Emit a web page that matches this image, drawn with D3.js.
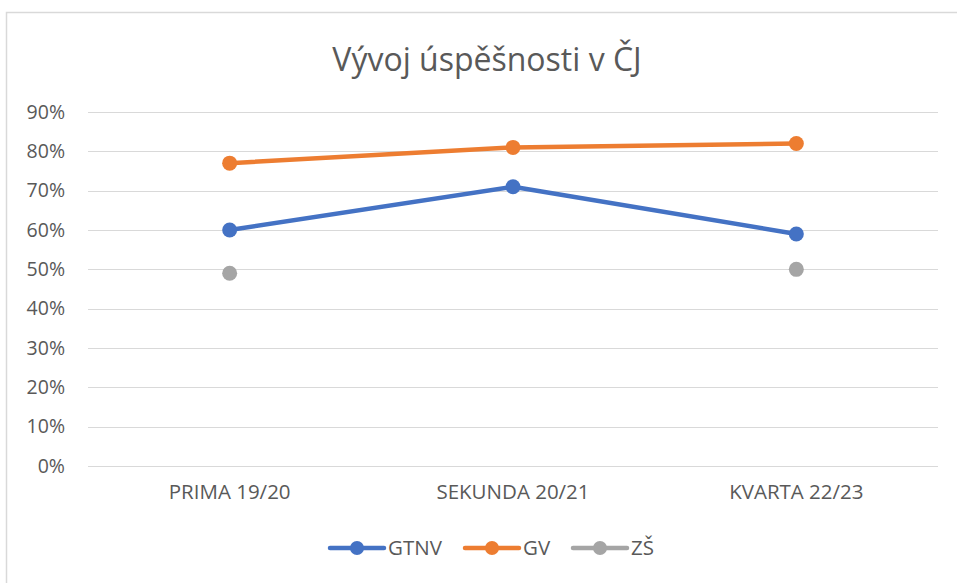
<!DOCTYPE html>
<html><head><meta charset="utf-8">
<script src="https://cdn.jsdelivr.net/npm/d3@7"></script>
<style>body{margin:0;background:#fff}svg{display:block}text{font-family:"Open Sans","Noto Sans",sans-serif;fill:#595959}</style>
</head><body>
<svg id="c" width="957" height="583"></svg>
<script>
const categories = ["PRIMA 19/20", "SEKUNDA 20/21", "KVARTA 22/23"];
const gtnv = [60, 71, 59];
const gv = [77, 81, 82];
const zs = [49, null, 50];
const yTicks = [0, 10, 20, 30, 40, 50, 60, 70, 80, 90];
const seriesNames = ["GTNV", "GV", "ZŠ"];
const colors = ["#4472C4", "#ED7D31", "#A5A5A5"];
const title = "Vývoj úspěšnosti v ČJ";

const svg = d3.select("#c");
svg.append("rect").attr("x", 6.5).attr("y", 12.5).attr("width", 960).attr("height", 600)
  .attr("fill", "none").attr("stroke", "#d9d9d9").attr("stroke-width", 1.5);

const x = d3.scaleBand().domain(categories).range([88, 938]).padding(0);
const y = d3.scaleLinear().domain([0, 90]).range([466, 112]);

svg.append("text").attr("x", 487).attr("y", 71).attr("text-anchor", "middle")
  .style("font-size", "32px").text(title);

const grid = svg.append("g");
grid.selectAll("line").data(yTicks).join("line")
  .attr("x1", 88).attr("x2", 938)
  .attr("y1", d => Math.round(y(d)) + 0.5).attr("y2", d => Math.round(y(d)) + 0.5)
  .attr("stroke", "#d9d9d9").attr("stroke-width", 1.2);

const yAxis = d3.axisLeft(y).tickValues(yTicks).tickFormat(d => d + "%").tickSize(0).tickPadding(0);
const ya = svg.append("g").attr("transform", "translate(65,0)").call(yAxis);
ya.select(".domain").remove();
ya.selectAll("text").style("font-size", "19.5px").style("font-family", null).attr("fill", null);

const xAxis = d3.axisBottom(x).tickSize(0).tickPadding(0);
const xa = svg.append("g").attr("transform", "translate(0,484)").call(xAxis);
xa.select(".domain").remove();
xa.selectAll("text").style("font-size", "20.5px").style("font-family", null).attr("fill", null);

const data = [gtnv, gv, zs];
const line = d3.line().defined(d => d.v != null).x(d => x(d.c) + x.bandwidth() / 2).y(d => y(d.v));
data.forEach((s, i) => {
  const pts = s.map((v, j) => ({ c: categories[j], v }));
  svg.append("path").datum(pts).attr("d", line).attr("fill", "none")
    .attr("stroke", colors[i]).attr("stroke-width", 4.5).attr("stroke-linejoin", "round").attr("stroke-linecap", "round");
  svg.append("g").selectAll("circle").data(pts.filter(d => d.v != null)).join("circle")
    .attr("cx", d => x(d.c) + x.bandwidth() / 2).attr("cy", d => y(d.v)).attr("r", 7.5)
    .attr("fill", colors[i]);
});

const legX = [328, 463, 571];
const lg = svg.append("g");
seriesNames.forEach((n, i) => {
  const g = lg.append("g").attr("transform", `translate(${legX[i]},548)`);
  g.append("line").attr("x1", 2).attr("x2", 56).attr("y1", 0).attr("y2", 0)
    .attr("stroke", colors[i]).attr("stroke-width", 4.5).attr("stroke-linecap", "round");
  g.append("circle").attr("cx", 29).attr("cy", 0).attr("r", 7).attr("fill", colors[i]);
  g.append("text").attr("x", 60).attr("y", 0).attr("dy", "0.35em").style("font-size", "20.5px").text(n);
});
</script>
</body></html>
